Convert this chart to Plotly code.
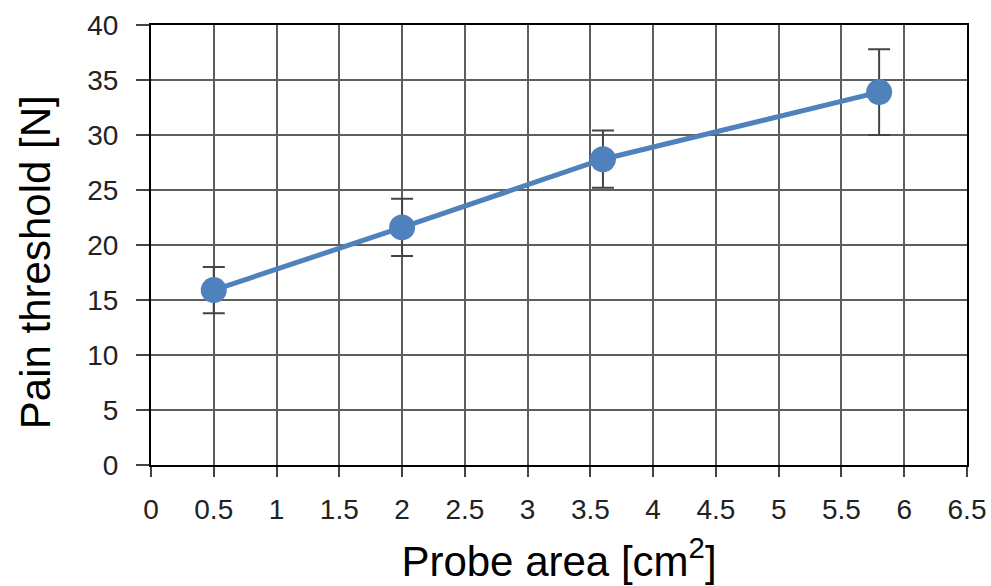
import plotly.graph_objects as go

probe_area = [0.5, 2.0, 3.6, 5.8]
pain_threshold = [15.9, 21.6, 27.8, 33.9]
error = [2.1, 2.6, 2.6, 3.9]

x_ticks = [0, 0.5, 1, 1.5, 2, 2.5, 3, 3.5, 4, 4.5, 5, 5.5, 6, 6.5]
x_tick_labels = ["0", "0.5", "1", "1.5", "2", "2.5", "3", "3.5", "4", "4.5", "5", "5.5", "6", "6.5"]
y_ticks = [0, 5, 10, 15, 20, 25, 30, 35, 40]

x_title = "Probe area [cm<sup>2</sup>]"
y_title = "Pain threshold [N]"

fig = go.Figure()
fig.add_trace(go.Scatter(
    x=probe_area, y=pain_threshold,
    mode="lines+markers",
    line=dict(color="#4F81BD", width=5),
    marker=dict(color="#4F81BD", size=26),
    error_y=dict(type="data", array=error, visible=True, color="#444444", thickness=2, width=11),
    showlegend=False,
))

fig.update_layout(
    width=991, height=586,
    margin=dict(l=151, r=24, t=25, b=121),
    plot_bgcolor="white", paper_bgcolor="white",
    font=dict(family="Liberation Sans, Arial, sans-serif", color="#000000"),
)
fig.update_xaxes(
    range=[0, 6.5], tickvals=x_ticks, ticktext=x_tick_labels,
    automargin=False,
    showgrid=True, gridcolor="#5e5e5e", gridwidth=1.6,
    showline=True, linecolor="black", linewidth=2, mirror=True,
    ticks="outside", ticklen=10, tickcolor="#444444", tickwidth=2,
    tickfont=dict(size=28, color="#222222"),
    ticklabelstandoff=8,
    title=dict(text=x_title, font=dict(size=42, color="black"), standoff=23),
    zeroline=False,
)
fig.update_yaxes(
    range=[0, 40], tickvals=y_ticks,
    automargin=False,
    showgrid=True, gridcolor="#5e5e5e", gridwidth=1.6,
    showline=True, linecolor="black", linewidth=2, mirror=True,
    ticks="outside", ticklen=13, tickcolor="#444444", tickwidth=2,
    tickfont=dict(size=28, color="#222222"),
    ticklabelstandoff=12,
    zeroline=False,
)
fig.add_annotation(
    text=y_title, textangle=-90,
    xref="paper", yref="paper", x=0, y=0.461,
    xanchor="center", yanchor="middle", xshift=-116,
    showarrow=False, font=dict(size=42, color="black"),
)

fig.write_html(
    "out.html",
    config={"displayModeBar": False},
    post_script="document.body.style.margin='0';document.body.style.overflow='hidden';",
)
